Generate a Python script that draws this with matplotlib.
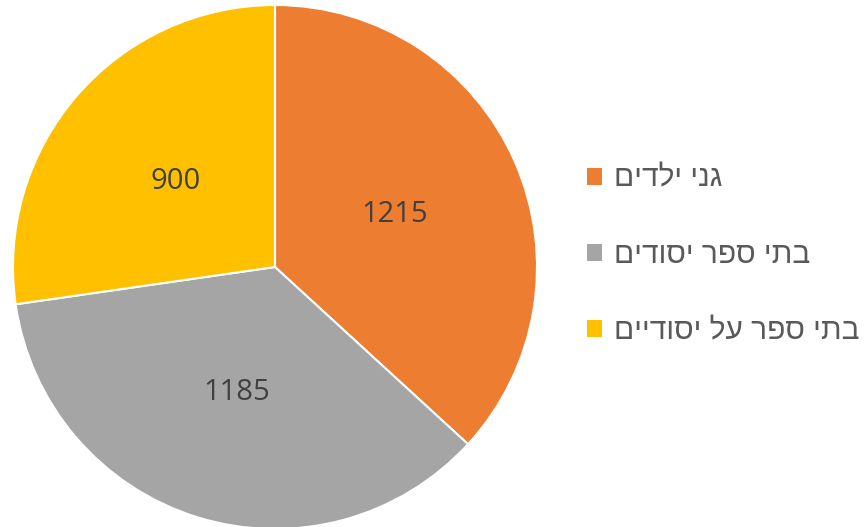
import matplotlib
matplotlib.use("Agg")
import matplotlib.pyplot as plt
from matplotlib.patches import Patch

categories = ["גני ילדים", "בתי ספר יסודים", "בתי ספר על יסודיים"]
values = [1215, 1185, 900]
colors = ["#ED7D31", "#A5A5A5", "#FFC000"]

def visual(s):
    return s[::-1]

W, H = 864, 527
fig = plt.figure(figsize=(W / 100, H / 100), dpi=100)
cx, cy, r = 275, 267, 262
ax = fig.add_axes([(cx - r) / W, (H - cy - r) / H, 2 * r / W, 2 * r / H])
wedges, texts, autotexts = ax.pie(
    values, colors=colors, startangle=90, counterclock=False,
    wedgeprops=dict(edgecolor="white", linewidth=1.5),
    autopct=lambda p: "", pctdistance=0.5, radius=1.0,
)
for t, v in zip(autotexts, values):
    t.set_text(str(v))
    t.set_fontsize(21)
    t.set_color("#404040")
    t.set_family(["Open Sans", "DejaVu Sans"])
ax.set_xlim(-1, 1)
ax.set_ylim(-1, 1)
ax.set_aspect("equal")

handles = [Patch(facecolor=c, edgecolor="none") for c in colors]
labels = [visual(c) for c in categories]
leg = fig.legend(handles, labels, loc="center left",
                 bbox_to_anchor=(587 / W, 1 - 255 / H),
                 frameon=False, borderpad=0, borderaxespad=0,
                 handlelength=0.5, handleheight=0.5,
                 handletextpad=0.4, labelspacing=1.62,
                 prop=dict(family=["Liberation Sans", "DejaVu Sans"], size=21.5))
for t in leg.get_texts():
    t.set_color("#595959")

fig.savefig("out.png", dpi=100)
